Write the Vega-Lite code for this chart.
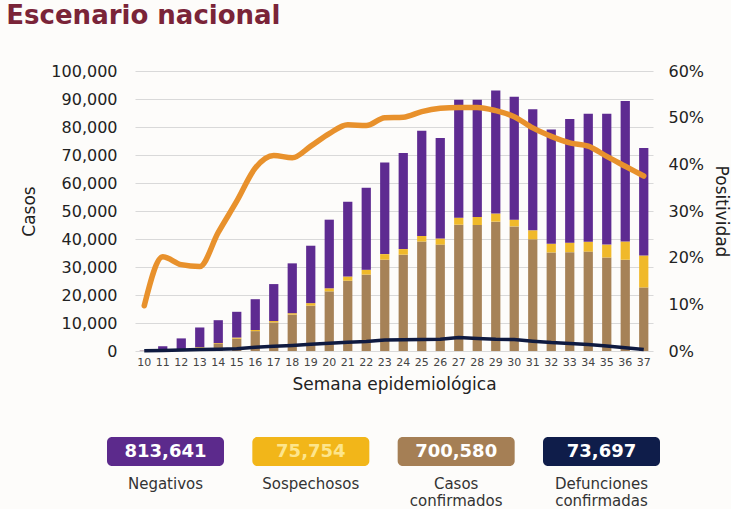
{
  "$schema": "https://vega.github.io/schema/vega-lite/v6.json",
  "background": "#fdfcfa",
  "padding": {"left": 6, "top": 2, "right": 0, "bottom": 0},
  "title": {"text": "Escenario nacional", "anchor": "start", "fontSize": 26, "font": "DejaVu Sans", "fontWeight": "bold", "color": "#7a2438", "offset": 34, "dx": -14},
  "config": {"font": "DejaVu Sans", "view": {"stroke": "transparent"}},
  "spacing": 43,
  "vconcat": [
    {
      "width": 518,
      "height": 280,
      "data": {"values": [
        {"semana": 10, "confirmados": 50, "sospechosos": 20, "negativos": 80, "defunciones": 100, "positividad": 0.097},
        {"semana": 11, "confirmados": 150, "sospechosos": 100, "negativos": 1450, "defunciones": 200, "positividad": 0.202},
        {"semana": 12, "confirmados": 400, "sospechosos": 300, "negativos": 3800, "defunciones": 350, "positividad": 0.185},
        {"semana": 13, "confirmados": 1200, "sospechosos": 200, "negativos": 7000, "defunciones": 500, "positividad": 0.181},
        {"semana": 14, "confirmados": 2500, "sospechosos": 300, "negativos": 8200, "defunciones": 600, "positividad": 0.254},
        {"semana": 15, "confirmados": 4400, "sospechosos": 400, "negativos": 9200, "defunciones": 800, "positividad": 0.321},
        {"semana": 16, "confirmados": 7100, "sospechosos": 400, "negativos": 11000, "defunciones": 1300, "positividad": 0.392},
        {"semana": 17, "confirmados": 10200, "sospechosos": 500, "negativos": 13200, "defunciones": 1700, "positividad": 0.419},
        {"semana": 18, "confirmados": 13000, "sospechosos": 500, "negativos": 17800, "defunciones": 2000, "positividad": 0.414},
        {"semana": 19, "confirmados": 16200, "sospechosos": 900, "negativos": 20500, "defunciones": 2400, "positividad": 0.439},
        {"semana": 20, "confirmados": 21300, "sospechosos": 1100, "negativos": 24500, "defunciones": 2800, "positividad": 0.466},
        {"semana": 21, "confirmados": 25100, "sospechosos": 1500, "negativos": 26700, "defunciones": 3100, "positividad": 0.485},
        {"semana": 22, "confirmados": 27300, "sospechosos": 1700, "negativos": 29300, "defunciones": 3400, "positividad": 0.483},
        {"semana": 23, "confirmados": 32600, "sospechosos": 2000, "negativos": 32700, "defunciones": 3900, "positividad": 0.5},
        {"semana": 24, "confirmados": 34400, "sospechosos": 2000, "negativos": 34300, "defunciones": 4000, "positividad": 0.501},
        {"semana": 25, "confirmados": 39100, "sospechosos": 2000, "negativos": 37600, "defunciones": 4100, "positividad": 0.513},
        {"semana": 26, "confirmados": 38000, "sospechosos": 2200, "negativos": 35900, "defunciones": 4200, "positividad": 0.52},
        {"semana": 27, "confirmados": 45100, "sospechosos": 2500, "negativos": 42100, "defunciones": 4800, "positividad": 0.522},
        {"semana": 28, "confirmados": 45000, "sospechosos": 2900, "negativos": 41800, "defunciones": 4500, "positividad": 0.522},
        {"semana": 29, "confirmados": 46200, "sospechosos": 2900, "negativos": 43900, "defunciones": 4200, "positividad": 0.515},
        {"semana": 30, "confirmados": 44500, "sospechosos": 2400, "negativos": 43900, "defunciones": 4100, "positividad": 0.502},
        {"semana": 31, "confirmados": 39900, "sospechosos": 3200, "negativos": 43200, "defunciones": 3500, "positividad": 0.478},
        {"semana": 32, "confirmados": 35200, "sospechosos": 3100, "negativos": 40800, "defunciones": 3000, "positividad": 0.46},
        {"semana": 33, "confirmados": 35300, "sospechosos": 3400, "negativos": 44200, "defunciones": 2650, "positividad": 0.446},
        {"semana": 34, "confirmados": 35500, "sospechosos": 3500, "negativos": 45700, "defunciones": 2300, "positividad": 0.439},
        {"semana": 35, "confirmados": 33400, "sospechosos": 4600, "negativos": 46700, "defunciones": 1800, "positividad": 0.417},
        {"semana": 36, "confirmados": 32600, "sospechosos": 6500, "negativos": 50200, "defunciones": 1200, "positividad": 0.396},
        {"semana": 37, "confirmados": 22700, "sospechosos": 11400, "negativos": 38400, "defunciones": 500, "positividad": 0.375}
      ]},
      "layer": [
        {
          "layer": [
            {
              "transform": [
                {"fold": ["confirmados", "sospechosos", "negativos"], "as": ["serie", "casos"]},
                {"lookup": "serie", "from": {"data": {"values": [{"serie": "confirmados", "orden": 1}, {"serie": "sospechosos", "orden": 2}, {"serie": "negativos", "orden": 3}]}, "key": "serie", "fields": ["orden"]}}
              ],
              "mark": {"type": "bar"},
              "encoding": {
                "x": {"field": "semana", "type": "ordinal", "scale": {"paddingInner": 0.5, "paddingOuter": 0.25},
                  "axis": {"labelAngle": 0, "labelFontSize": 11, "labelColor": "#444", "ticks": false, "domain": false, "labelPadding": 5, "labelOverlap": false, "title": "Semana epidemiológica", "titleFontSize": 17, "titleFontWeight": "normal", "titleColor": "#222", "titlePadding": 9}},
                "y": {"field": "casos", "type": "quantitative", "stack": "zero", "scale": {"domain": [0, 100000]},
                  "axis": {"title": "Casos", "values": [0, 10000, 20000, 30000, 40000, 50000, 60000, 70000, 80000, 90000, 100000], "format": ",d", "labelFontSize": 16, "labelColor": "#222", "labelPadding": 18, "ticks": false, "domain": false, "grid": true, "gridColor": "#d9d9d9", "titleFontSize": 17, "titleFontWeight": "normal", "titleColor": "#222", "titlePadding": 12}},
                "color": {"field": "serie", "type": "nominal",
                  "scale": {"domain": ["confirmados", "sospechosos", "negativos"], "range": ["#a68257", "#f0b92a", "#5e2b91"]}, "legend": null},
                "order": {"field": "orden", "type": "quantitative", "sort": "ascending"}
              }
            },
            {
              "mark": {"type": "line", "color": "#0f1a40", "strokeWidth": 3.5},
              "encoding": {
                "x": {"field": "semana", "type": "ordinal"},
                "y": {"field": "defunciones", "type": "quantitative",
                  "axis": {"title": "Casos", "values": [0, 10000, 20000, 30000, 40000, 50000, 60000, 70000, 80000, 90000, 100000], "format": ",d", "labelFontSize": 16, "labelColor": "#222", "labelPadding": 18, "ticks": false, "domain": false, "grid": true, "gridColor": "#d9d9d9", "titleFontSize": 17, "titleFontWeight": "normal", "titleColor": "#222", "titlePadding": 12}}
              }
            }
          ]
        },
        {
          "mark": {"type": "line", "color": "#e8912c", "strokeWidth": 5.5, "interpolate": "monotone", "strokeCap": "round"},
          "encoding": {
            "x": {"field": "semana", "type": "ordinal"},
            "y": {"field": "positividad", "type": "quantitative", "scale": {"domain": [0, 0.6]},
              "axis": {"orient": "right", "title": "Positividad", "format": ".0%", "values": [0, 0.1, 0.2, 0.3, 0.4, 0.5, 0.6], "grid": false, "labelFontSize": 16, "labelColor": "#222", "labelPadding": 15, "ticks": false, "domain": false, "titleFontSize": 17, "titleFontWeight": "normal", "titleColor": "#222", "titlePadding": 8}}
          }
        }
      ],
      "resolve": {"scale": {"y": "independent"}}
    },
    {
      "width": 500,
      "height": 29,
      "data": {"values": [
        {"serie": "Negativos", "total": "813,641", "etiqueta": "Negativos"},
        {"serie": "Sospechosos", "total": "75,754", "etiqueta": "Sospechosos"},
        {"serie": "Casos confirmados", "total": "700,580", "etiqueta": "Casos\nconfirmados"},
        {"serie": "Defunciones confirmadas", "total": "73,697", "etiqueta": "Defunciones\nconfirmadas"}
      ]},
      "encoding": {
        "x": {"field": "serie", "type": "nominal", "sort": null, "scale": {"range": [-28, 525], "paddingInner": 0.195, "paddingOuter": 0}, "axis": null}
      },
      "layer": [
        {
          "mark": {"type": "rect", "cornerRadius": 5},
          "encoding": {
            "color": {"field": "serie", "type": "nominal", "sort": null,
              "scale": {"domain": ["Negativos", "Sospechosos", "Casos confirmados", "Defunciones confirmadas"], "range": ["#5c2a8c", "#f2b619", "#a57f55", "#0f1d4a"]}, "legend": null}
          }
        },
        {
          "mark": {"type": "text", "fontSize": 18, "fontWeight": "bold", "baseline": "middle"},
          "encoding": {
            "text": {"field": "total"},
            "color": {"field": "serie", "type": "nominal", "sort": null,
              "scale": {"domain": ["Negativos", "Sospechosos", "Casos confirmados", "Defunciones confirmadas"], "range": ["#ffffff", "#fde58c", "#ffffff", "#ffffff"]}, "legend": null}
          }
        },
        {
          "mark": {"type": "text", "fontSize": 15, "baseline": "top", "dy": 25, "lineBreak": "\n", "lineHeight": 17, "color": "#333333"},
          "encoding": {"text": {"field": "etiqueta"}}
        }
      ],
      "resolve": {"scale": {"color": "independent"}}
    }
  ]
}
